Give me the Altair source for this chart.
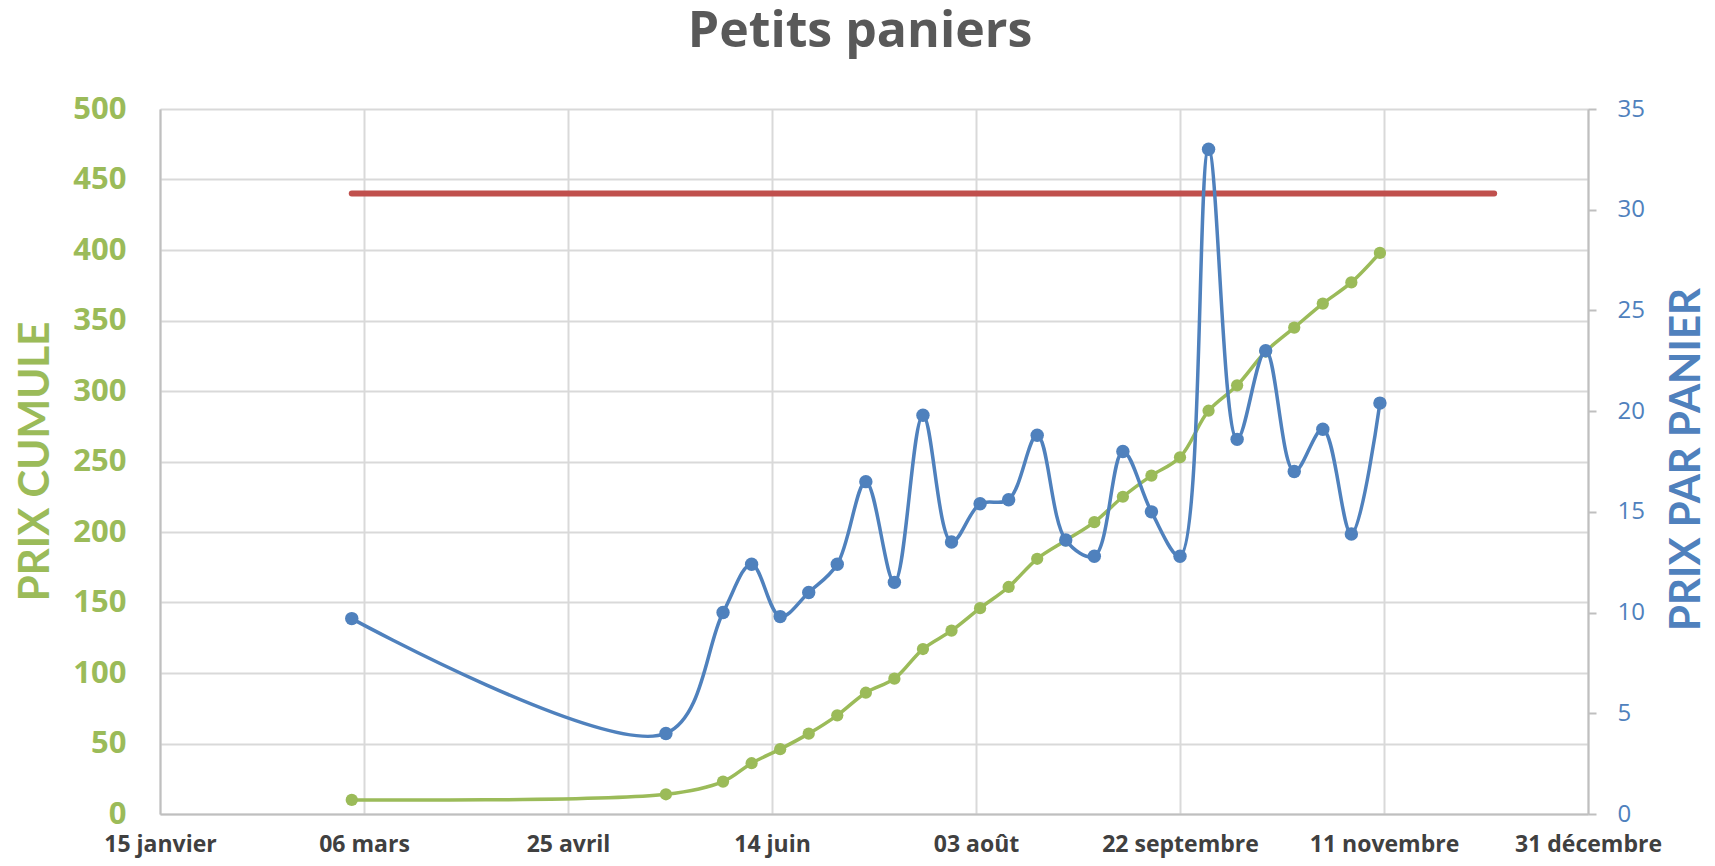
import altair as alt
import pandas as pd

# ---- data ----
dates = [
    "2015-03-03", "2015-05-19", "2015-06-02", "2015-06-09", "2015-06-16",
    "2015-06-23", "2015-06-30", "2015-07-07", "2015-07-14", "2015-07-21",
    "2015-07-28", "2015-08-04", "2015-08-11", "2015-08-18", "2015-08-25",
    "2015-09-01", "2015-09-08", "2015-09-15", "2015-09-22", "2015-09-29",
    "2015-10-06", "2015-10-13", "2015-10-20", "2015-10-27", "2015-11-03",
    "2015-11-10",
]
prix_cumule = [10, 14, 23, 36, 46, 57, 70, 86, 96, 117, 130, 146, 161, 181,
               194, 207, 225, 240, 253, 286, 304, 328, 345, 362, 377, 398]
prix_panier = [9.7, 4.0, 10.0, 12.4, 9.8, 11.0, 12.4, 16.5, 11.5, 19.8, 13.5,
               15.4, 15.6, 18.8, 13.6, 12.8, 18.0, 15.0, 12.8, 33.0, 18.6,
               23.0, 17.0, 19.1, 13.9, 20.4]

ref_dates = ["2015-03-03", "2015-12-08"]
ref_values = [440, 440]

tick_dates = ["2015-01-15", "2015-03-06", "2015-04-25", "2015-06-14",
              "2015-08-03", "2015-09-22", "2015-11-11", "2015-12-31"]
tick_labels = ["15 janvier", "06 mars", "25 avril", "14 juin", "03 août",
               "22 septembre", "11 novembre", "31 décembre"]

left_ticks = list(range(0, 501, 50))
right_ticks = list(range(0, 36, 5))

title_text = "Petits paniers"

GREEN = "#9BBB59"
BLUE = "#4F81BD"
RED = "#C0504D"
GRID = "#D9D9D9"
AXIS = "#BFBFBF"
FONT = "Open Sans"
TFONT = "Lato"


def dt(s):
    y, m, d = (int(p) for p in s.split("-"))
    return alt.DateTime(year=y, month=m, date=d, utc=True)


df = pd.DataFrame({"date": dates, "cumule": prix_cumule, "panier": prix_panier})
df_ref = pd.DataFrame({"date": ref_dates, "cumule": ref_values})

label_expr = "''"
for d, lab in reversed(list(zip(tick_dates, tick_labels))):
    label_expr = f"utcFormat(datum.value, '%Y-%m-%d') == '{d}' ? '{lab}' : ({label_expr})"

x_enc = alt.X(
    "date:T",
    scale=alt.Scale(type="utc", domain=[dt(tick_dates[0]), dt(tick_dates[-1])]),
    axis=alt.Axis(
        values=[dt(d) for d in tick_dates],
        labelExpr=label_expr,
        title=None,
        grid=True, gridColor=GRID, gridWidth=2,
        domainColor=AXIS, domainWidth=2,
        ticks=False,
        labelFont=FONT, labelFontSize=23, labelFontWeight="bold",
        labelColor="#404040", labelBaseline="alphabetic", labelPadding=37,
        labelFlush=False, labelOverlap=False,
    ),
)

y_left = alt.Y(
    "cumule:Q",
    scale=alt.Scale(domain=[0, 500], nice=False),
    axis=alt.Axis(
        values=left_ticks, orient="left",
        grid=True, gridColor=GRID, gridWidth=2,
        domainColor=AXIS, domainWidth=2, ticks=False,
        labelFont=FONT, labelFontSize=31, labelFontWeight="bold",
        labelColor=GREEN, labelPadding=34,
        title="PRIX CUMULE", titleFont=TFONT, titleFontSize=42,
        titleFontWeight="bold", titleColor=GREEN, titleAngle=270,
        titleX=-125, titleY=352, titleAlign="center", titleBaseline="middle",
    ),
)

y_right = alt.Y(
    "panier:Q",
    scale=alt.Scale(domain=[0, 35], nice=False),
    axis=alt.Axis(
        values=right_ticks, orient="right", grid=False,
        domainColor=AXIS, domainWidth=2,
        ticks=True, tickSize=8, tickColor=AXIS, tickWidth=2,
        labelFont=FONT, labelFontSize=24, labelColor=BLUE, labelPadding=21,
        title="PRIX PAR PANIER", titleFont=TFONT, titleFontSize=42,
        titleFontWeight="bold", titleColor=BLUE, titleAngle=270,
        titleX=98, titleY=350, titleAlign="center", titleBaseline="middle",
    ),
)

green_line = alt.Chart(df).mark_line(
    interpolate="catmull-rom", strokeWidth=3.5, color=GREEN
).encode(x=x_enc, y=y_left)
green_pts = alt.Chart(df).mark_circle(size=150, opacity=1, color=GREEN).encode(
    x=x_enc, y=y_left)
red_line = alt.Chart(df_ref).mark_line(
    strokeWidth=6, color=RED, strokeCap="round"
).encode(x=x_enc, y=y_left)

blue_line = alt.Chart(df).mark_line(
    interpolate="catmull-rom", strokeWidth=3.5, color=BLUE
).encode(x=x_enc, y=y_right)
blue_pts = alt.Chart(df).mark_circle(size=180, opacity=1, color=BLUE).encode(
    x=x_enc, y=y_right)

title_mark = alt.Chart(pd.DataFrame({"t": [title_text]})).mark_text(
    font=FONT, fontSize=50, fontWeight="bold", color="#595959",
    align="center", baseline="alphabetic",
).encode(text="t:N", x=alt.value(700), y=alt.value(-62))

chart = alt.layer(
    alt.layer(green_line, green_pts, red_line),
    alt.layer(blue_line, blue_pts),
    title_mark,
).resolve_scale(y="independent").properties(
    width=1428,
    height=705,
    autosize=alt.AutoSizeParams(type="none"),
    padding={"left": 152, "top": 101, "right": 119, "bottom": 44},
).configure_view(stroke=None)

chart.save("out.html", embed_options={"renderer": "svg", "actions": False})
